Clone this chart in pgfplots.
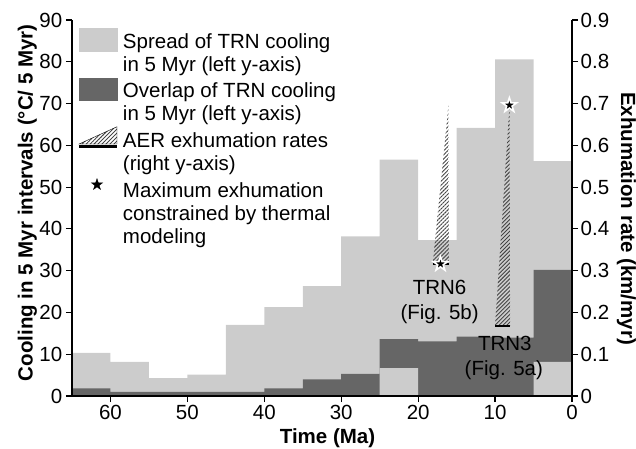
\documentclass[border=0pt]{standalone}
\usepackage{fontspec}
\setmainfont{Liberation Sans}
\usepackage{pgfplots}
\usepackage{pgfplotstable}
\pgfplotsset{compat=1.18}
\usetikzlibrary{patterns.meta}

\definecolor{spreadgray}{RGB}{204,204,204}
\definecolor{overlapgray}{RGB}{102,102,102}
\definecolor{hatchgray}{RGB}{68,68,68}

\newcommand\fs{\fontsize{20.5}{24}\selectfont}

% filled five-pointed star used for the thermal-model maxima
\pgfdeclareplotmark{fstar}{%
  \pgfpathmoveto{\pgfpointpolar{90}{\pgfplotmarksize}}%
  \pgfpathlineto{\pgfpointpolar{126}{0.382*\pgfplotmarksize}}%
  \pgfpathlineto{\pgfpointpolar{162}{\pgfplotmarksize}}%
  \pgfpathlineto{\pgfpointpolar{198}{0.382*\pgfplotmarksize}}%
  \pgfpathlineto{\pgfpointpolar{234}{\pgfplotmarksize}}%
  \pgfpathlineto{\pgfpointpolar{270}{0.382*\pgfplotmarksize}}%
  \pgfpathlineto{\pgfpointpolar{306}{\pgfplotmarksize}}%
  \pgfpathlineto{\pgfpointpolar{342}{0.382*\pgfplotmarksize}}%
  \pgfpathlineto{\pgfpointpolar{18}{\pgfplotmarksize}}%
  \pgfpathlineto{\pgfpointpolar{54}{0.382*\pgfplotmarksize}}%
  \pgfpathclose
  \pgfusepathqfillstroke
}

% invisible strip that gives each legend image its width
\newcommand\legendwidth{\path[draw=none, fill=none] (0pt,0pt) rectangle (38pt,0.5pt);}

% 5 Myr bins, keyed by the older edge of each bin (Ma)
\pgfplotstableread{
age top
65 10.3
60 8.2
55 4.3
50 5.1
45 17.0
40 21.3
35 26.3
30 38.2
25 56.6
20 37.3
15 64.2
10 80.6
5  56.2
0  56.2
}\spread

\pgfplotstableread{
age lo  hi
65 0   1.8
60 0   1.0
55 0   1.0
50 0   1.0
45 0   1.0
40 0   1.8
35 0   4.0
30 0   5.3
25 6.7 13.6
20 0   13.1
15 0   14.2
10 0   14.0
5  8.2 30.2
0  8.2 30.2
}\overlap

\begin{document}
\begin{tikzpicture}
\path[use as bounding box] (-72pt,-52pt) rectangle (564pt,396pt);

% ---- cooling (left axis) ----
\begin{axis}[
  scale only axis, width=500pt, height=376pt,
  at={(0pt,0pt)}, anchor=south west,
  x dir=reverse,
  xmin=0, xmax=65, ymin=0, ymax=90,
  axis x line*=bottom, axis y line*=left,
  axis on top,
  axis line style={line width=1.2pt, black},
  xtick={0,10,20,30,40,50,60},
  ytick={0,10,20,30,40,50,60,70,80,90},
  tick align=outside, major tick length=6pt,
  tick style={line width=1.2pt, black},
  /pgf/number format/assume math mode=true,
  tick label style={font=\fs},
  yticklabel style={inner xsep=3.5pt},
  xlabel={Time (Ma)},
  ylabel={Cooling in 5 Myr intervals (°C/ 5 Myr)},
  label style={font=\fs\bfseries},
  xlabel style={at={(axis description cs:0.511,0)}, anchor=base, yshift=-47.3pt},
  ylabel style={at={(axis description cs:-0.089,0.514)}, anchor=center},
]
  % spread of cooling in each bin
  \addplot[const plot, fill=spreadgray, draw=none] table[x=age, y=top] {\spread} \closedcycle;
  % overlap: upper bound in dark grey, spread shown again beneath its lower bound
  \addplot[const plot, fill=overlapgray, draw=none] table[x=age, y=hi] {\overlap} \closedcycle;
  \addplot[const plot, fill=spreadgray, draw=none] table[x=age, y=lo] {\overlap} \closedcycle;
\end{axis}

% ---- exhumation rate (right axis) ----
\begin{axis}[
  scale only axis, width=500pt, height=376pt,
  at={(0pt,0pt)}, anchor=south west,
  x dir=reverse,
  xmin=0, xmax=65, ymin=0, ymax=0.9,
  axis x line=none, axis y line*=right,
  axis line style={line width=1.2pt, black},
  ytick={0,0.1,0.2,0.3,0.4,0.5,0.6,0.7,0.8,0.9},
  yticklabels={0,0.1,0.2,0.3,0.4,0.5,0.6,0.7,0.8,0.9},
  tick align=outside, major tick length=6pt,
  tick style={line width=1.2pt, black},
  tick label style={font=\fs},
  yticklabel style={inner xsep=2.5pt},
  ylabel={Exhumation rate (km/myr)},
  every axis y label/.style={at={(axis description cs:1.109,0.472)}, rotate=-90, anchor=center, font=\fs\bfseries},
  legend style={
    at={(axis description cs:0.014,0.968)}, anchor=north west,
    draw=none, fill=none, inner sep=0pt, outer sep=0pt,
    row sep=0pt, column sep=6pt,
    cells={anchor=base west},
    nodes={inner sep=0pt, text height=16pt, text depth=7pt, font=\fs},
  },
]
  % AER exhumation-rate envelopes
  \addplot[forget plot, draw=none, pattern={Lines[angle=45, distance=2.8pt, line width=0.9pt]}, pattern color=hatchgray]
    coordinates {(18.1,0.316) (16.05,0.697) (16.0,0.316)} -- cycle;
  \addplot[forget plot, draw=none, pattern={Lines[angle=45, distance=2.8pt, line width=0.9pt]}, pattern color=hatchgray]
    coordinates {(10.0,0.168) (8.12,0.696) (8.05,0.168)} -- cycle;
  \addplot[forget plot, black, line width=2.2pt] coordinates {(18.1,0.316) (16.0,0.316)};
  \addplot[forget plot, black, line width=2.2pt] coordinates {(10.0,0.168) (8.05,0.168)};
  % thermal-model maxima
  \addplot[forget plot, only marks, mark=fstar, mark size=7.5pt,
    mark options={fill=black, draw=white, line width=1.6pt}]
    coordinates {(17.1,0.316) (8.14,0.696)};

  \node[anchor=base, font=\fs] at (axis cs:17.21,0.2441) {TRN6};
  \node[anchor=base, font=\fs] at (axis cs:17.21,0.1843) {(Fig. 5b)};
  \node[anchor=base, font=\fs] at (axis cs:8.74,0.1101) {TRN3};
  \node[anchor=base, font=\fs] at (axis cs:8.86,0.0486) {(Fig. 5a)};

  % legend
  \addlegendimage{legend image code/.code={\fill[spreadgray, overlay] (0pt,-3pt) rectangle (38pt,20pt); \legendwidth}}
  \addlegendentry{Spread of TRN cooling}
  \addlegendimage{empty legend}
  \addlegendentry[text depth=10.7pt]{in 5 Myr (left y-axis)}
  \addlegendimage{legend image code/.code={\fill[overlapgray, overlay] (0pt,-2pt) rectangle (38pt,20pt); \legendwidth}}
  \addlegendentry{Overlap of TRN cooling}
  \addlegendimage{empty legend}
  \addlegendentry[text depth=10.7pt]{in 5 Myr (left y-axis)}
  \addlegendimage{legend image code/.code={%
    \fill[overlay, pattern={Lines[angle=45, distance=2.8pt, line width=0.9pt]}, pattern color=hatchgray] (0pt,3.4pt) -- (38pt,3.4pt) -- (38pt,20.7pt) -- cycle;
    \draw[overlay, black, line width=2.2pt] (0pt,1pt) -- (38pt,1pt);
    \legendwidth}}
  \addlegendentry{AER exhumation rates}
  \addlegendimage{empty legend}
  \addlegendentry[text depth=10.7pt]{(right y-axis)}
  \addlegendimage{legend image code/.code={%
    \draw[overlay] plot[only marks, mark=fstar, mark size=6pt, mark options={fill=black, draw=black, line width=0.3pt}] coordinates {(18pt,12.5pt)};
    \legendwidth}}
  \addlegendentry{Maximum exhumation}
  \addlegendimage{empty legend}
  \addlegendentry{constrained by thermal}
  \addlegendimage{empty legend}
  \addlegendentry{modeling}
\end{axis}
\end{tikzpicture}
\end{document}
